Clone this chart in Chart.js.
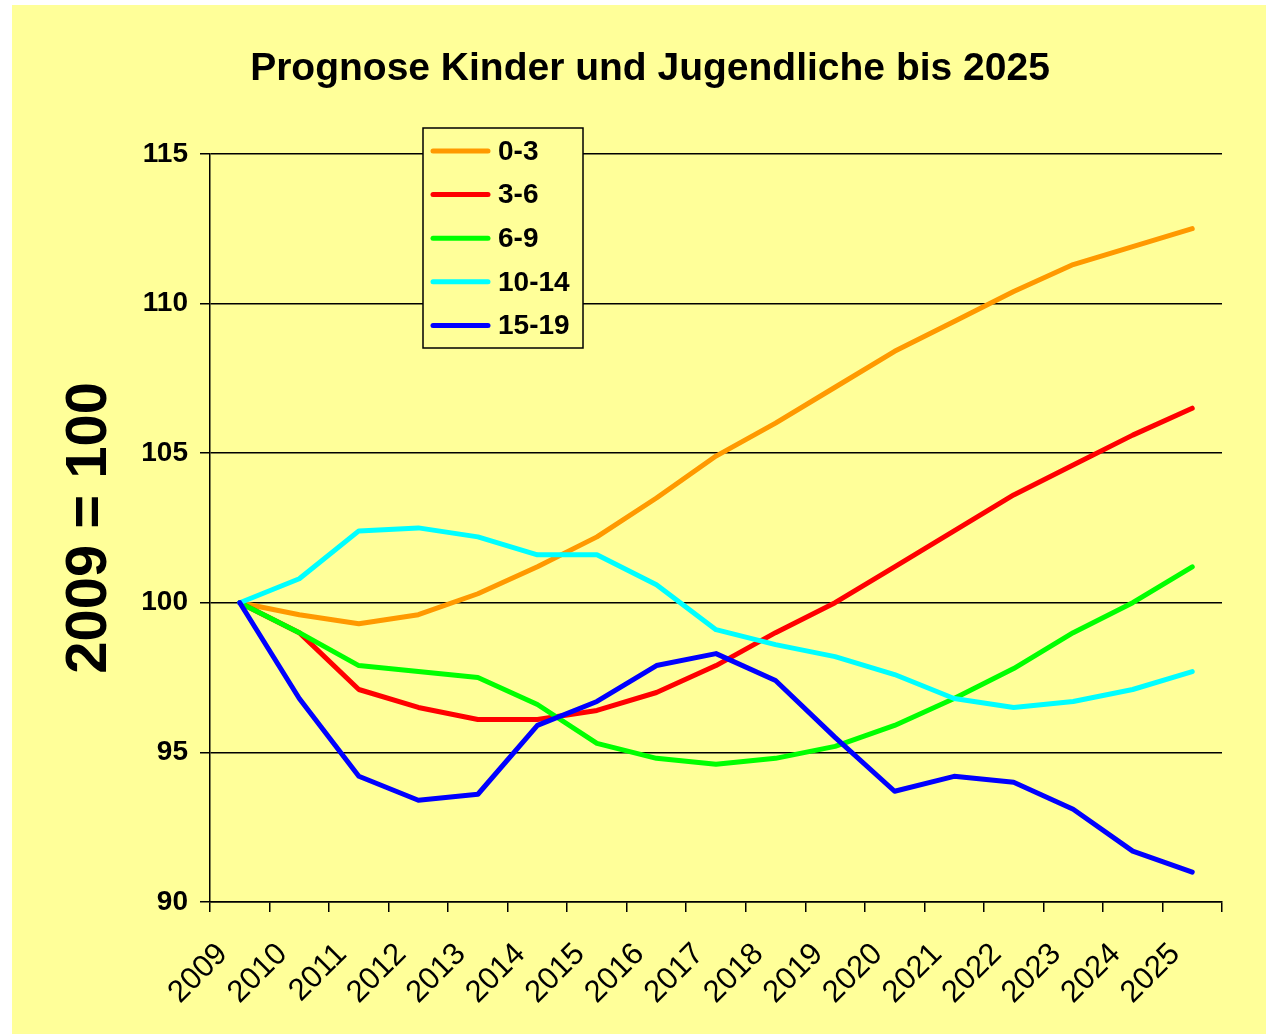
<!DOCTYPE html>
<html>
<head>
<meta charset="utf-8">
<script src="https://cdn.jsdelivr.net/npm/chart.js@4/dist/chart.umd.min.js"></script>
<style>
  html, body { margin: 0; padding: 0; background: #fff; }
  #wrap { position: absolute; left: 12px; top: 5px; width: 1254px; height: 1029px; background: #ffff99; }
</style>
</head>
<body>
<div id="wrap"><canvas id="chart" width="1254" height="1029"></canvas></div>
<script>
// years on the x axis
let years = ["2009", "2010", "2011", "2012", "2013", "2014", "2015", "2016", "2017",
  "2018", "2019", "2020", "2021", "2022", "2023", "2024", "2025"];
let groups = ["0-3", "3-6", "6-9", "10-14", "15-19"];
let lineColors = ["#ff9900", "#ff0000", "#00ff00", "#00ffff", "#0000ff"];
// index values, 2009 = 100
let age0to3 = [100, 99.6, 99.3, 99.6, 100.3, 101.2, 102.2, 103.5, 104.9, 106.0, 107.2, 108.4, 109.4, 110.4, 111.3, 111.9, 112.5];
let age3to6 = [100, 99.0, 97.1, 96.5, 96.1, 96.1, 96.4, 97.0, 97.9, 99.0, 100.0, 101.2, 102.4, 103.6, 104.6, 105.6, 106.5];
let age6to9 = [100, 99.0, 97.9, 97.7, 97.5, 96.6, 95.3, 94.8, 94.6, 94.8, 95.2, 95.9, 96.8, 97.8, 99.0, 100.0, 101.2];
let age10to14 = [100, 100.8, 102.4, 102.5, 102.2, 101.6, 101.6, 100.6, 99.1, 98.6, 98.2, 97.6, 96.8, 96.5, 96.7, 97.1, 97.7];
let age15to19 = [100, 96.8, 94.2, 93.4, 93.6, 95.9, 96.7, 97.9, 98.3, 97.4, 95.5, 93.7, 94.2, 94.0, 93.1, 91.7, 91.0];
let yTicks = [90, 95, 100, 105, 110, 115];

let allSeries = [age0to3, age3to6, age6to9, age10to14, age15to19];
let fontName = "'Liberation Sans', Arial, sans-serif";

// legend drawn as a framed box inside the plot, like the original
let boxLegend = {
  id: "boxLegend",
  afterDraw(chart) {
    let ctx = chart.ctx;
    let x = 411, y = 123, w = 160, h = 220;
    ctx.save();
    ctx.fillStyle = "#ffff99";
    ctx.fillRect(x, y, w, h);
    ctx.strokeStyle = "#000";
    ctx.lineWidth = 1.5;
    ctx.strokeRect(x, y, w, h);
    ctx.font = "bold 28px " + fontName;
    ctx.textBaseline = "middle";
    ctx.fillStyle = "#000";
    chart.data.datasets.forEach((ds, i) => {
      let ly = 146 + i * 43.6;
      ctx.strokeStyle = ds.borderColor;
      ctx.lineWidth = 5;
      ctx.lineCap = "round";
      ctx.beginPath();
      ctx.moveTo(421, ly);
      ctx.lineTo(476, ly);
      ctx.stroke();
      ctx.fillText(ds.label, 486, ly + 1);
    });
    ctx.restore();
  }
};

let datasets = groups.map((g, i) => ({
  label: g,
  data: allSeries[i],
  borderColor: lineColors[i],
  backgroundColor: lineColors[i],
  borderWidth: 5,
  borderCapStyle: "round",
  borderJoinStyle: "round",
  pointRadius: 0,
  tension: 0,
  fill: false,
  order: groups.length - i,
}));

new Chart(document.getElementById("chart"), {
  type: "line",
  data: { labels: years, datasets: datasets },
  plugins: [boxLegend],
  options: {
    responsive: false,
    animation: false,
    layout: { padding: { left: 66, right: 44, top: 0, bottom: 0 } },
    plugins: {
      legend: { display: false },
      tooltip: { enabled: false },
      title: {
        display: true,
        text: "Prognose Kinder und Jugendliche bis 2025",
        color: "#000",
        font: { family: fontName, size: 39, weight: "bold", lineHeight: 1.2 },
        padding: { top: 41, bottom: 61 },
      },
    },
    scales: {
      x: {
        type: "category",
        offset: true,
        grid: { offset: true, drawOnChartArea: false, color: "#000", lineWidth: 1.5, tickLength: 10 },
        border: { color: "#000", width: 1.5 },
        ticks: {
          color: "#000",
          font: { family: fontName, size: 31 },
          minRotation: 45,
          maxRotation: 45,
          autoSkip: false,
          labelOffset: -17,
          padding: 24,
        },
        afterFit(scale) { scale.height = 132; },
      },
      y: {
        min: 90,
        max: 115,
        afterBuildTicks(scale) { scale.ticks = yTicks.map((v) => ({ value: v })); },
        grid: { color: "#000", lineWidth: 1.5, tickLength: 10 },
        border: { color: "#000", width: 1.5 },
        ticks: {
          color: "#000",
          font: { family: fontName, size: 28, weight: "bold" },
          padding: 12,
        },
        title: {
          display: true,
          text: "2009 = 100",
          color: "#000",
          font: { family: fontName, size: 58, weight: "bold", lineHeight: 1 },
          padding: { top: -17, bottom: 0 },
        },
        afterFit(scale) { scale.width = 132; },
      },
    },
  },
});
</script>
</body>
</html>
